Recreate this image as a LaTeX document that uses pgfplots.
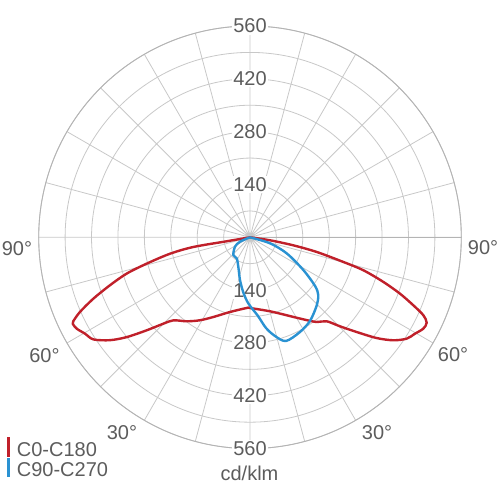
\documentclass[border=0pt]{standalone}
\usepackage{pgfplots}
\pgfplotsset{compat=1.18}
\usepgfplotslibrary{polar}
\usepackage{fontspec}
\setmainfont{Liberation Sans}
\definecolor{redc}{HTML}{C0202A}
\definecolor{bluec}{HTML}{2A92D2}
\definecolor{txt}{HTML}{5C5C5C}
\definecolor{gridc}{HTML}{C8C8C8}
\tikzset{rlab/.style={fill=white, inner sep=1.5pt, text=txt, font=\fontsize{20}{24}\selectfont}}
\begin{document}
\begin{tikzpicture}
\path[use as bounding box] (0pt,0pt) rectangle (500pt,500pt);
\begin{polaraxis}[
  at={(250pt,262.7pt)}, anchor=origin,
  width=422.6pt, height=422.6pt, scale only axis,
  xmin=0, xmax=360, ymin=0, ymax=560,
  xtick={0,15,...,345}, ytick={70,140,...,560},
  xticklabels={}, yticklabels={},
  grid=major, major grid style={gridc, line width=0.8pt},
  axis line style={gridc!90!black, line width=0.9pt},
  major tick length=0pt,
  clip=false,
]
\node[rlab] at (axis cs:90,560) {560};
\node[rlab] at (axis cs:90,420) {420};
\node[rlab] at (axis cs:90,280) {280};
\node[rlab] at (axis cs:90,140) {140};
\node[rlab] at (axis cs:270,140) {140};
\node[rlab] at (axis cs:270,280) {280};
\node[rlab] at (axis cs:270,420) {420};
\node[rlab] at (axis cs:270,560) {560};
% C0-C180
\addplot[redc, line width=2.4pt, smooth, line join=round] coordinates {
(189.7,0) (189.7,62.6) (189.7,152.4) (191.6,216.4) (194.3,282.5) (196.4,340.7)
(198.9,392.2) (201.4,446.0) (203.7,492.1) (205.4,518.5) (206.0,522.7)
(207.8,519.2) (210.3,506.4) (213.1,495.5) (216.3,460.6) (219.0,420.2)
(222.0,368.3) (224.9,324.4) (227.3,299.5) (233.0,278.7) (238.9,256.8)
(245.3,232.5) (255.0,204.9) (267.3,187.6) (270,187.4)
(285.1,203.1) (295.2,228.4) (303.0,259.2) (308.2,285.7) (312.4,301.4)
(315.3,335.4) (318.4,378.1) (321.5,428.9) (324.3,467.7) (327.1,494.6)
(329.7,506.4) (332.2,519.2) (334.2,520.1)
(335.8,503.6) (337.4,468.8) (339.4,424.7) (341.5,372.6) (343.8,312.7)
(345.2,255.8) (347.6,181.0) (349.5,116.7) (351.5,53.6) (351.5,0)
};
% C90-C270
\addplot[bluec, line width=2.4pt, smooth, line join=round] coordinates {
(200,0) (203.7,29) (212.1,46.9) (226.7,64.5) (237.7,65.9) (248.3,83.8)
(256.8,116.2) (263.1,147.3) (268.5,175.0) (275.8,209.6) (280.0,244)
(284.2,269.8) (289.1,290.9) (297.8,283.8) (305.6,272.9) (314.1,253.4)
(319.8,236.9) (323.2,215.2) (328.5,165.7) (336.4,106) (343.3,55.4) (345,0)
};
\end{polaraxis}
\begin{scope}[every node/.style={text=txt, font=\fontsize{20}{24}\selectfont, inner sep=0pt}]
\node at (17pt,251.5pt) {90°};
\node at (483pt,252pt) {90°};
\node at (44.5pt,144.5pt) {60°};
\node at (453pt,145pt) {60°};
\node at (122pt,67pt) {30°};
\node at (377pt,67pt) {30°};
\node at (249.5pt,26.5pt) {cd/klm};
\node[anchor=west] at (16.7pt,50.8pt) {C0-C180};
\node[anchor=west] at (16.7pt,30.8pt) {C90-C270};
\end{scope}
\fill[redc] (7.2pt,43.3pt) rectangle (9.6pt,63.3pt);
\fill[bluec] (7.2pt,23.3pt) rectangle (9.6pt,42pt);
\end{tikzpicture}
\end{document}
